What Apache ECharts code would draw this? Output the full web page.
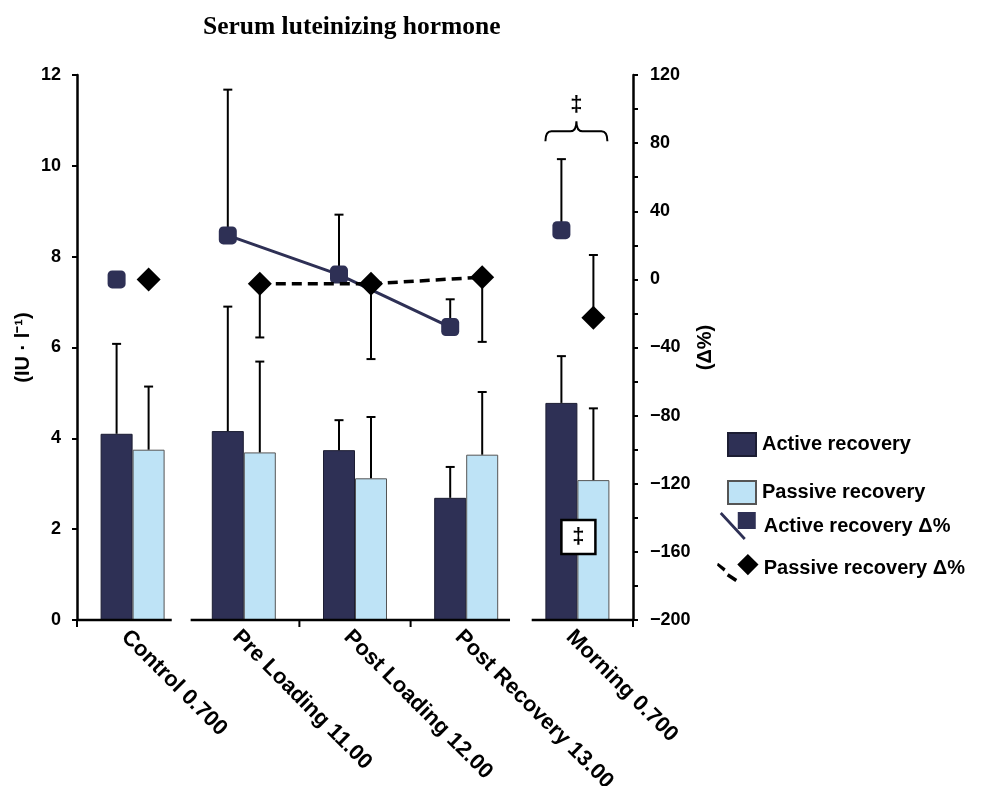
<!DOCTYPE html>
<html>
<head>
<meta charset="utf-8">
<script src="https://cdn.jsdelivr.net/npm/echarts@6/dist/echarts.min.js"></script>
<style>html,body{margin:0;padding:0;background:#fff;}#main{width:989px;height:786px;}</style>
</head>
<body>
<div id="main"></div>
<script>
// ---- data ----
const categories = ['Control 0.700', 'Pre Loading 11.00', 'Post Loading 12.00', 'Post Recovery 13.00', 'Morning 0.700'];
const activeMean = [4.10, 4.16, 3.74, 2.69, 4.78];
const activeSD = [1.98, 2.74, 0.66, 0.68, 1.03];
const passiveMean = [3.75, 3.69, 3.12, 3.64, 3.08];
const passiveSD = [1.39, 2.00, 1.35, 1.38, 1.58];
const activeDelta = [0, 25.8, 2.8, -28.0, 28.9];
const activeDeltaErr = [0, 85.6, 35.2, 16.3, 41.7];
const passiveDelta = [0, -2.6, -2.6, 1.3, -22.6];
const passiveDeltaErr = [0, -31.5, -44.2, -38.0, 36.9];
const leftTicks = [0, 2, 4, 6, 8, 10, 12];
const rightTicks = [-200, -160, -120, -80, -40, 0, 40, 80, 120];
const lineGroups = [[0], [1, 2, 3], [4]];   // which time points are joined by lines
const seriesNames = ['Active recovery', 'Passive recovery', 'Active recovery Δ%', 'Passive recovery Δ%'];

// ---- styling / layout constants ----
const NAVY = '#2e3055';
const LIGHT = '#bee3f6';
const FONT = "'Liberation Sans', Arial, sans-serif";
const barOffset = 16 / 111.2;   // half bar width in category units
const axisSegments = [[-0.5, 0.352], [0.522, 3.394], [3.589, 4.5]];
const axisTickPos = [-0.5, 1.5, 2.5, 4.5];
const annotationCategory = 4;
const braceLevel = 87;
const boxLevel = 1.83;

function lineData(values, off) {
  const out = [];
  lineGroups.forEach((g, gi) => {
    if (gi > 0) out.push([g[0] - 0.5, '-']);
    g.forEach(i => out.push([i + off, values[i]]));
  });
  return out;
}

function errRender(params, api) {
  const x = api.value(0), y0 = api.value(1), e = api.value(2);
  if (!e) return null;
  const p0 = api.coord([x, y0]);
  const p1 = api.coord([x, y0 + e]);
  return {
    type: 'group',
    children: [
      { type: 'line', shape: { x1: p0[0], y1: p0[1], x2: p1[0], y2: p1[1] }, style: { stroke: '#000', lineWidth: 2 } },
      { type: 'line', shape: { x1: p1[0] - 4.5, y1: p1[1], x2: p1[0] + 4.5, y2: p1[1] }, style: { stroke: '#000', lineWidth: 2 } }
    ]
  };
}

const chart = echarts.init(document.getElementById('main'), null, { renderer: 'canvas' });

const option = {
  backgroundColor: '#fff',
  animation: false,
  title: {
    text: 'Serum luteinizing hormone',
    left: 198, top: 9,
    textStyle: { fontFamily: "'Liberation Serif', 'Times New Roman', serif", fontWeight: 'bold', fontSize: 25.5, color: '#000' }
  },
  legend: [
    {
      data: [seriesNames[0], seriesNames[1]],
      orient: 'vertical', left: 722, top: 427,
      itemWidth: 28, itemHeight: 23, itemGap: 23,
      icon: 'rect',
      textStyle: { fontFamily: FONT, fontWeight: 'bold', fontSize: 20, color: '#000', padding: [0, 0, 0, 1] }
    },
    {
      data: [
        { name: seriesNames[2], icon: 'path://M18,0 L36,0 L36,17 L18,17 Z M2,0 L26,26 L24,28 L0,2 Z' },
        { name: seriesNames[3], icon: 'path://M32,0 L43,11 L32,22 L21,11 Z M1,9 L9,15 L7,18 L0,12 Z M12,20 L21,26 L19,29 L10,23 Z' }
      ],
      orient: 'vertical', left: 712, top: 507,
      itemWidth: 42, itemHeight: 28, itemGap: 14,
      textStyle: { fontFamily: FONT, fontWeight: 'bold', fontSize: 20, color: '#000' }
    }
  ],
  grid: { left: 77, right: 356, top: 75, bottom: 166, containLabel: false, outerBoundsMode: 'none' },
  xAxis: [
    {
      type: 'category', data: categories, position: 'bottom',
      axisLine: { show: false }, axisTick: { show: false },
      axisLabel: {
        interval: 0, rotate: -45, margin: 6, verticalAlign: 'top',
        fontFamily: FONT, fontWeight: 'bold', fontSize: 22, color: '#000'
      },
      splitLine: { show: false }
    },
    { type: 'value', min: -0.5, max: 4.5, show: false }
  ],
  yAxis: [
    {
      type: 'value', min: leftTicks[0], max: leftTicks[leftTicks.length - 1], interval: leftTicks[1] - leftTicks[0],
      name: '(IU · l⁻¹)', nameLocation: 'middle', nameRotate: 90, nameGap: 44, nameMoveOverlap: false,
      nameTextStyle: { fontFamily: FONT, fontWeight: 'bold', fontSize: 20, color: '#000' },
      axisLine: { show: true, onZero: false, lineStyle: { color: '#000', width: 2.5 } },
      axisTick: { show: true, length: 5, lineStyle: { color: '#000', width: 2 } },
      axisLabel: { margin: 16, fontFamily: FONT, fontWeight: 'bold', fontSize: 18, color: '#000' },
      splitLine: { show: false }
    },
    {
      type: 'value', min: rightTicks[0], max: rightTicks[rightTicks.length - 1], interval: rightTicks[1] - rightTicks[0],
      position: 'right',
      name: '(Δ%)', nameLocation: 'middle', nameRotate: 90, nameGap: 62, nameMoveOverlap: false,
      nameTextStyle: { fontFamily: FONT, fontWeight: 'bold', fontSize: 20, color: '#000' },
      axisLine: { show: true, onZero: false, lineStyle: { color: '#000', width: 2.5 } },
      axisTick: { show: true, length: 5, lineStyle: { color: '#000', width: 2 } },
      minorTick: { show: true, splitNumber: 2, length: 5, lineStyle: { color: '#000', width: 2 } },
      axisLabel: {
        margin: 17, fontFamily: FONT, fontWeight: 'bold', fontSize: 18, color: '#000',
        formatter: v => (v < 0 ? '\u2212' + Math.abs(v) : String(v))
      },
      splitLine: { show: false }
    }
  ],
  series: [
    {
      name: seriesNames[0], type: 'bar', xAxisIndex: 0, yAxisIndex: 0,
      data: activeMean, barWidth: 32, barGap: '0%',
      itemStyle: { color: NAVY, borderColor: '#1c1d33', borderWidth: 1 }, z: 2
    },
    {
      name: seriesNames[1], type: 'bar', xAxisIndex: 0, yAxisIndex: 0,
      data: passiveMean, barWidth: 32, barGap: '0%',
      itemStyle: { color: LIGHT, borderColor: '#555', borderWidth: 1 }, z: 2
    },
    {
      type: 'custom', name: 'activeErr', xAxisIndex: 1, yAxisIndex: 0, renderItem: errRender, z: 3,
      encode: { x: 0, y: 1 },
      data: activeMean.map((m, i) => [i - barOffset, m, activeSD[i]])
    },
    {
      type: 'custom', name: 'passiveErr', xAxisIndex: 1, yAxisIndex: 0, renderItem: errRender, z: 3,
      encode: { x: 0, y: 1 },
      data: passiveMean.map((m, i) => [i + barOffset, m, passiveSD[i]])
    },
    {
      type: 'custom', name: 'activeDeltaErr', xAxisIndex: 1, yAxisIndex: 1, renderItem: errRender, z: 4,
      encode: { x: 0, y: 1 },
      data: activeDelta.map((m, i) => [i - barOffset, m, activeDeltaErr[i]])
    },
    {
      type: 'custom', name: 'passiveDeltaErr', xAxisIndex: 1, yAxisIndex: 1, renderItem: errRender, z: 4,
      encode: { x: 0, y: 1 },
      data: passiveDelta.map((m, i) => [i + barOffset, m, passiveDeltaErr[i]])
    },
    {
      name: seriesNames[2], type: 'line', xAxisIndex: 1, yAxisIndex: 1,
      data: lineData(activeDelta, -barOffset), connectNulls: false,
      symbol: 'roundRect', symbolSize: 18, showAllSymbol: true,
      itemStyle: { color: NAVY }, lineStyle: { color: NAVY, width: 3 }, z: 5
    },
    {
      name: seriesNames[3], type: 'line', xAxisIndex: 1, yAxisIndex: 1,
      data: lineData(passiveDelta, barOffset), connectNulls: false,
      symbol: 'diamond', symbolSize: 24, showAllSymbol: true,
      itemStyle: { color: '#000' }, lineStyle: { color: '#000', width: 3.5, type: [10, 6] }, z: 6
    },
    {
      // broken x axis baseline with ticks
      type: 'custom', name: 'xaxisline', xAxisIndex: 1, yAxisIndex: 0, silent: true, z: 7,
      data: [[0, 0]],
      renderItem: function (params, api) {
        const children = [];
        axisSegments.forEach(s => {
          const a = api.coord([s[0], 0]), b = api.coord([s[1], 0]);
          children.push({ type: 'line', shape: { x1: a[0], y1: a[1], x2: b[0], y2: b[1] }, style: { stroke: '#000', lineWidth: 2.5 } });
        });
        axisTickPos.forEach(t => {
          const a = api.coord([t, 0]);
          children.push({ type: 'line', shape: { x1: a[0], y1: a[1], x2: a[0], y2: a[1] + 7 }, style: { stroke: '#000', lineWidth: 2 } });
        });
        return { type: 'group', children: children };
      }
    },
    {
      // brace + double dagger above Morning
      type: 'custom', name: 'brace', xAxisIndex: 1, yAxisIndex: 1, silent: true, z: 7,
      data: [[annotationCategory, braceLevel]],
      renderItem: function (params, api) {
        const c = api.coord([api.value(0), api.value(1)]);
        const x = c[0] - 1, y = c[1];
        const path = 'M' + (x - 31) + ',' + (y + 10) +
          ' Q' + (x - 31) + ',' + y + ' ' + (x - 25) + ',' + y +
          ' L' + (x - 6) + ',' + y +
          ' Q' + x + ',' + y + ' ' + x + ',' + (y - 10) +
          ' Q' + x + ',' + y + ' ' + (x + 6) + ',' + y +
          ' L' + (x + 25) + ',' + y +
          ' Q' + (x + 31) + ',' + y + ' ' + (x + 31) + ',' + (y + 10);
        return {
          type: 'group', children: [
            { type: 'path', shape: { pathData: path }, style: { stroke: '#000', fill: null, lineWidth: 2 } },
            { type: 'text', x: x, y: y - 26, style: { text: '‡', fontFamily: FONT, fontWeight: 'bold', fontSize: 22, fill: '#000', align: 'center', verticalAlign: 'middle' } }
          ]
        };
      }
    },
    {
      // boxed double dagger on Morning bars
      type: 'custom', name: 'box', xAxisIndex: 1, yAxisIndex: 0, silent: true, z: 7,
      data: [[annotationCategory, boxLevel]],
      renderItem: function (params, api) {
        const c = api.coord([api.value(0), api.value(1)]);
        return {
          type: 'group', children: [
            { type: 'rect', shape: { x: c[0] - 16, y: c[1] - 17, width: 34, height: 34 }, style: { fill: '#fff', stroke: '#000', lineWidth: 2.5 } },
            { type: 'text', x: c[0] + 1, y: c[1], style: { text: '‡', fontFamily: FONT, fontWeight: 'bold', fontSize: 22, fill: '#000', align: 'center', verticalAlign: 'middle' } }
          ]
        };
      }
    }
  ]
};

chart.setOption(option);
</script>
</body>
</html>
